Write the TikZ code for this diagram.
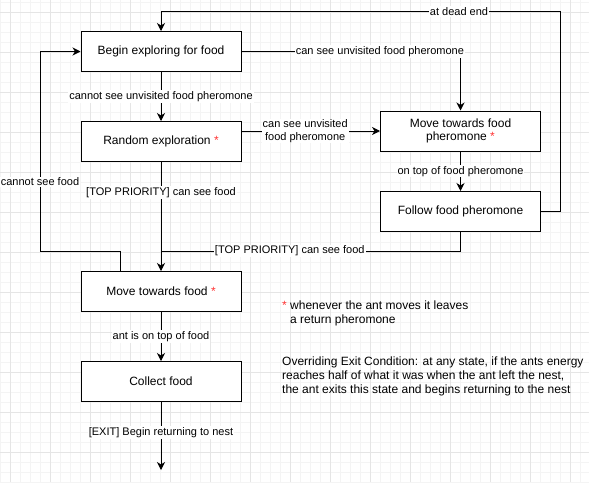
\documentclass[tikz,border=0pt]{standalone}
\usepackage{fontspec}
\setmainfont{Liberation Sans}
\usetikzlibrary{arrows.meta,calc}
\definecolor{ast}{RGB}{255,51,51}
\definecolor{gridminor}{RGB}{244,244,244}
\definecolor{gridmajor}{RGB}{229,229,229}
\begin{document}
\begin{tikzpicture}[x=1pt,y=-1pt,
  box/.style={draw=black, line width=1pt, minimum width=160pt, minimum height=40pt, inner sep=2pt, font=\fontsize{12}{13.5}\selectfont, align=center, fill=white},
  lbl/.style={fill=white, inner sep=1pt, font=\fontsize{11}{12.5}\selectfont, align=center},
  arr/.style={line width=1pt, -{Stealth[length=8pt,width=8pt,inset=2.5pt]}},
  con/.style={line width=1pt},
  note/.style={font=\fontsize{12}{14}\selectfont, align=left, anchor=west, inner sep=0pt},
  gmin/.style={draw=gridminor, line width=1pt},
  gmaj/.style={draw=gridmajor, line width=1pt},
]
\useasboundingbox (0,0) rectangle (589,482);
\fill[white] (0,0) rectangle (589,482);
% grid
\foreach \x in {0,10,...,580} \draw[gmin] (\x+0.5,0) -- (\x+0.5,482);
\foreach \y in {2,12,...,482} \draw[gmin] (0,\y+0.5) -- (589,\y+0.5);
\foreach \x in {10,50,...,570} \draw[gmaj] (\x+0.5,0) -- (\x+0.5,482);
\foreach \y in {12,52,...,452} \draw[gmaj] (0,\y+0.5) -- (589,\y+0.5);

% boxes
\node[box] (begin) at (161,51.5) {Begin exploring for food};
\node[box] (random) at (161,141.5) {Random exploration {\color{ast}*}};
\node[box] (movefood) at (161,291.5) {Move towards food {\color{ast}*}};
\node[box] (collect) at (161,381.5) {Collect food};
\node[box] (movephero) at (460.5,131) {Move towards food\\pheromone {\color{ast}*}};
\node[box] (follow) at (460.5,211.5) {Follow food pheromone};

% helper coordinates
\coordinate (exitend) at (161,470);
\coordinate (d1) at (560.5,211.5);
\coordinate (d2) at (560.5,11.5);
\coordinate (d3) at (161,11.5);
\coordinate (j1) at (161,251);
\coordinate (l0) at ($(movefood.north west)!0.25!(movefood.north east)$);
\coordinate (l1) at (40,251);

% connectors
\draw[arr] (begin) -- node[lbl]{cannot see unvisited food pheromone} (random);
\draw[arr] (random) -- node[lbl,pos=0.28]{[TOP PRIORITY] can see food} (movefood);
\draw[arr] (movefood) -- node[lbl]{ant is on top of food} (collect);
\draw[arr] (collect) -- node[lbl,pos=0.45]{[EXIT] Begin returning to nest} (exitend);
\draw[arr] (begin.east) -| node[lbl,pos=0.316]{can see unvisited food pheromone} (movephero.north);
\draw[arr] (random.east |- movephero.west) -- node[lbl,pos=0.46]{can see unvisited\\food pheromone} (movephero.west);
\draw[arr] (movephero) -- node[lbl]{on top of food pheromone} (follow);
\draw[arr] (follow.east) -- (d1) -- (d2) -- node[lbl,pos=0.254]{at dead end} (d3) -- (begin.north);
\draw[con] (follow.south) |- node[lbl,pos=0.785]{[TOP PRIORITY] can see food} (j1);
\draw[arr] (l0) |- (l1) |- node[lbl,pos=0.173]{cannot see food} (begin.west);

% notes
\node[note] (note1) at (282,313) {{\color{ast}*} whenever the ant moves it leaves\\\hphantom{*\ }a return pheromone};
\node[note] (note2) at (282,376) {Overriding Exit Condition: at any state, if the ants energy\\reaches half of what it was when the ant left the nest,\\the ant exits this state and begins returning to the nest};
\end{tikzpicture}
\end{document}
